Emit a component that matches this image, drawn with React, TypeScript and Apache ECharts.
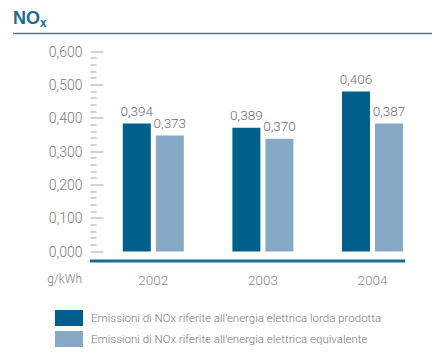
import React, { useEffect, useRef } from "react";
import * as echarts from "echarts";

const categories = ["2002", "2003", "2004"];
const seriesNames = [
  "Emissioni di NOx riferite all\u2019energia elettrica lorda prodotta",
  "Emissioni di NOx riferite all\u2019energia elettrica equivalente",
];
// bar heights as drawn in the picture
const grossBars = [0.384, 0.371, 0.48];
const equivBars = [0.348, 0.338, 0.384];
// values printed above the bars
const grossLabels = ["0,394", "0,389", "0,406"];
const equivLabels = ["0,373", "0,370", "0,387"];
const yTicks = [0, 0.1, 0.2, 0.3, 0.4, 0.5, 0.6];

const DARK = "#00608b";
const LIGHT = "#88a9c6";
const FONT = "Roboto, Liberation Sans, Arial, sans-serif";
const TITLE_FONT = "Liberation Sans, Arial, sans-serif";

export default function App() {
  const ref = useRef<HTMLDivElement>(null);
  useEffect(() => {
    if (!ref.current) return;
    const chart = echarts.init(ref.current, null, { renderer: "svg" });
    chart.setOption({
      animation: false,
      textStyle: { fontFamily: FONT, fontWeight: 300 },
      title: {
        left: 13,
        top: 8,
        padding: 0,
        text: "{a|NO}{b|x}",
        textStyle: {
          rich: {
            a: { fontSize: 18, fontWeight: "bold", color: "#1d6a98", fontFamily: TITLE_FONT, lineHeight: 20 },
            b: { fontSize: 12, fontWeight: "bold", color: "#1d6a98", fontFamily: TITLE_FONT, padding: [9, 0, 0, 0], lineHeight: 20 },
          },
        },
      },
      legend: {
        orient: "vertical",
        left: 55,
        top: 310,
        padding: 0,
        itemWidth: 28,
        itemHeight: 16,
        itemGap: 5,
        icon: "rect",
        selectedMode: false,
        textStyle: { fontSize: 11.5, color: "#7a7a7a", fontFamily: FONT, fontWeight: 300, padding: [0, 0, 0, 3] },
        data: seriesNames,
      },
      grid: { left: 98.5, right: 4.7, top: 51.5, bottom: 106.5, containLabel: false },
      xAxis: {
        type: "category",
        data: categories,
        axisLine: { show: false },
        axisTick: { show: false },
        axisLabel: { fontSize: 13.5, color: "#8a8a8a", margin: 21, fontFamily: FONT, fontWeight: 300 },
      },
      yAxis: {
        type: "value",
        min: yTicks[0],
        max: yTicks[yTicks.length - 1],
        interval: 0.1,
        offset: 8,
        axisLine: { show: false },
        splitLine: { show: false },
        axisTick: { show: true, inside: true, length: 13, lineStyle: { color: "#c4c4c4", width: 1.5 } },
        minorTick: { show: true, splitNumber: 5, length: 6, lineStyle: { color: "#c4c4c4", width: 1.5 } },
        axisLabel: {
          fontSize: 14,
          color: "#7a7a7a",
          margin: 8,
          fontFamily: FONT,
          fontWeight: 300,
          formatter: (v: number) => v.toFixed(3).replace(".", ","),
        },
      },
      series: [
        {
          name: seriesNames[0],
          type: "bar",
          data: grossBars,
          barWidth: 28,
          barGap: "18%",
          itemStyle: { color: DARK },
          label: {
            show: true,
            position: "top",
            distance: 6,
            fontSize: 13.5,
            color: "#6e6e6e",
            fontFamily: FONT,
            fontWeight: 300,
            formatter: (p: any) => grossLabels[p.dataIndex],
          },
        },
        {
          name: seriesNames[1],
          type: "bar",
          data: equivBars,
          barWidth: 28,
          itemStyle: { color: LIGHT },
          label: {
            show: true,
            position: "top",
            distance: 6,
            fontSize: 13.5,
            color: "#6e6e6e",
            fontFamily: FONT,
            fontWeight: 300,
            formatter: (p: any) => equivLabels[p.dataIndex],
          },
        },
      ],
      graphic: [
        {
          type: "line",
          shape: { x1: 13, y1: 33.5, x2: 432, y2: 33.5 },
          style: { stroke: "#3a80ad", lineWidth: 1.5 },
        },
        {
          type: "line",
          shape: { x1: 90, y1: 261, x2: 405, y2: 261 },
          style: { stroke: "#1f6a96", lineWidth: 3 },
        },
        {
          type: "text",
          x: 82,
          y: 279,
          style: {
            text: "g/kWh",
            fontSize: 12,
            fill: "#7a7a7a",
            fontFamily: FONT,
            fontWeight: 300,
            align: "right",
            verticalAlign: "middle",
          },
        },
      ],
    });
    return () => chart.dispose();
  }, []);
  return <div ref={ref} style={{ width: 432, height: 358, position: "absolute", left: 0, top: 0 }} />;
}
